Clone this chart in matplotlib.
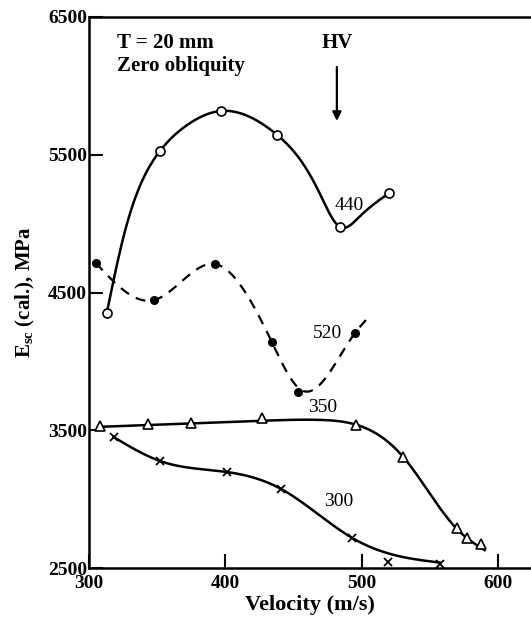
import numpy as np
import matplotlib
matplotlib.use("Agg")
import matplotlib.pyplot as plt

plt.rcParams['font.family'] = ['Liberation Serif', 'DejaVu Serif']
plt.rcParams['mathtext.fontset'] = 'custom'
plt.rcParams['mathtext.rm'] = 'Liberation Serif:bold'
plt.rcParams['mathtext.it'] = 'Liberation Serif:bold'
plt.rcParams['mathtext.bf'] = 'Liberation Serif:bold'

# ---- data ----
v440 = [313, 352, 397, 438, 484, 520]
e440 = [4351, 5527, 5818, 5643, 4975, 5222]
# curve knots
v440_fit = [313, 326, 337, 352, 372, 397, 418, 438, 455, 469, 484, 498, 520]
e440_fit = [4351, 4932, 5266, 5527, 5716, 5818, 5774, 5643, 5462, 5222, 4975, 5048, 5222]

v520 = [305, 348, 392, 434, 453, 495]
e520 = [4714, 4446, 4707, 4141, 3778, 4206]
# dashed fitted curve knots (extends a little past last point)
v520_fit = [305, 348, 392, 434, 456, 495, 503]
e520_fit = [4714, 4446, 4707, 4141, 3790, 4206, 4300]

v350 = [308, 343, 375, 427, 496, 530, 570, 577, 587]
e350 = [3530, 3545, 3555, 3590, 3540, 3306, 2790, 2718, 2674]
v350_fit = [308, 375, 430, 470, 496, 530, 570, 590]
e350_fit = [3525, 3550, 3570, 3575, 3540, 3310, 2780, 2630]

v300 = [318, 352, 401, 441, 493, 519, 557]
e300 = [3451, 3277, 3197, 3073, 2718, 2544, 2529]
v300_fit = [318, 352, 401, 441, 493, 530, 557]
e300_fit = [3451, 3277, 3197, 3073, 2718, 2580, 2540]

xticks = [300, 400, 500, 600]
yticks = [2500, 3500, 4500, 5500, 6500]


def natural_spline(x, y, n=300):
    x = np.asarray(x, float)
    y = np.asarray(y, float)
    k = len(x)
    h = np.diff(x)
    A = np.zeros((k, k))
    b = np.zeros(k)
    A[0, 0] = 1
    A[-1, -1] = 1
    for i in range(1, k - 1):
        A[i, i - 1] = h[i - 1]
        A[i, i] = 2 * (h[i - 1] + h[i])
        A[i, i + 1] = h[i]
        b[i] = 6 * ((y[i + 1] - y[i]) / h[i] - (y[i] - y[i - 1]) / h[i - 1])
    M = np.linalg.solve(A, b)
    xs = np.linspace(x[0], x[-1], n)
    idx = np.clip(np.searchsorted(x, xs) - 1, 0, k - 2)
    x0, x1 = x[idx], x[idx + 1]
    hh = x1 - x0
    t0 = x1 - xs
    t1 = xs - x0
    ys = (M[idx] * t0 ** 3 / (6 * hh) + M[idx + 1] * t1 ** 3 / (6 * hh)
          + (y[idx] / hh - M[idx] * hh / 6) * t0
          + (y[idx + 1] / hh - M[idx + 1] * hh / 6) * t1)
    return xs, ys


fig = plt.figure(figsize=(5.31, 6.24), dpi=100)
ax = fig.add_axes([0.1676, 0.0897, 0.8324, 0.8831])
ax.set_xlim(300, 624)
ax.set_ylim(2500, 6500)

lw = 1.8
# 440
xs, ys = natural_spline(v440_fit, e440_fit)
ax.plot(xs, ys, color='black', lw=lw, zorder=2)
ax.plot(v440, e440, 'o', ms=6.5, mfc='white', mec='black', mew=1.2, zorder=3)
# 520
xs, ys = natural_spline(v520_fit, e520_fit)
ax.plot(xs, ys, color='black', lw=1.6, dashes=(4.5, 3.5), zorder=2)
ax.plot(v520, e520, 'o', ms=5.5, mfc='black', mec='black', zorder=3)
# 350
xs, ys = natural_spline(v350_fit, e350_fit)
ax.plot(xs, ys, color='black', lw=lw, zorder=2)
ax.plot(v350, e350, '^', ms=7.5, mfc='white', mec='black', mew=1.2, zorder=3)
# 300
xs, ys = natural_spline(v300_fit, e300_fit)
ax.plot(xs, ys, color='black', lw=lw, zorder=2)
ax.plot(v300, e300, 'x', ms=6, mec='black', mew=1.3, zorder=3)

fs = 14
ax.text(491, 5135, '440', fontsize=fs, ha='center', va='center')
ax.text(475, 4206, '520', fontsize=fs, ha='center', va='center')
ax.text(471, 3662, '350', fontsize=fs, ha='center', va='center')
ax.text(483, 2986, '300', fontsize=fs, ha='center', va='center')

ax.text(320.5, 6311, 'T = 20 mm', fontsize=15, fontweight='bold', ha='left', va='center')
ax.text(320.5, 6144, 'Zero obliquity', fontsize=15, fontweight='bold', ha='left', va='center')
ax.text(481.7, 6311, 'HV', fontsize=15, fontweight='bold', ha='center', va='center')
ax.annotate('', xy=(481.7, 5745), xytext=(481.7, 6137),
            arrowprops=dict(arrowstyle='-|>', color='black', lw=1.6,
                            mutation_scale=13, shrinkA=0, shrinkB=0))

ax.spines['right'].set_visible(False)
for s in ['left', 'bottom', 'top']:
    ax.spines[s].set_linewidth(1.8)

ax.set_xticks(xticks)
ax.set_yticks(yticks)
ax.tick_params(direction='in', length=10, width=1.5, labelsize=14)
ax.tick_params(axis='x', pad=5)
ax.tick_params(axis='y', pad=1.5)
for lab in ax.get_xticklabels() + ax.get_yticklabels():
    lab.set_fontweight('bold')

ax.set_xlabel('Velocity (m/s)', fontsize=16, fontweight='bold', labelpad=2)
ax.set_ylabel(r'E$_{\rm sc}$ (cal.), MPa', fontsize=15, fontweight='bold', labelpad=8)

fig.savefig('out.png', dpi=100)
